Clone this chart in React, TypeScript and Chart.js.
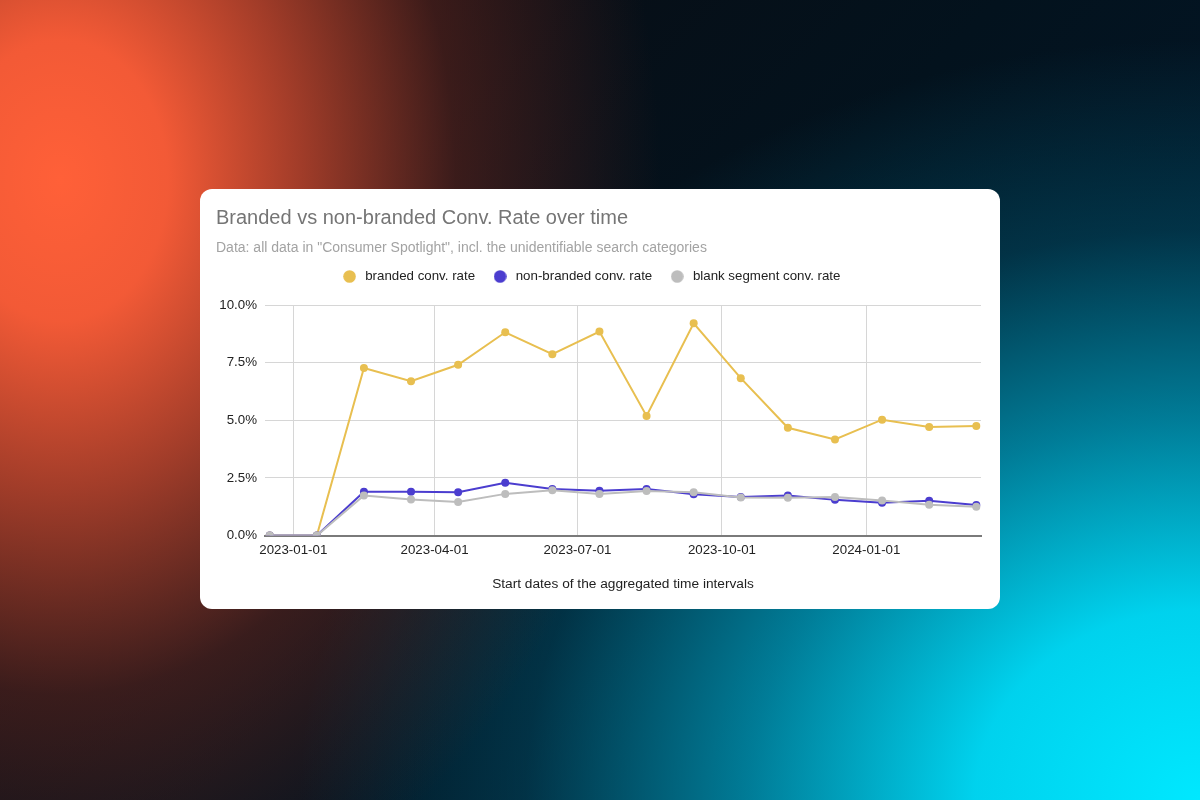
import React, { useEffect, useRef } from 'react';
import { Chart, registerables } from 'chart.js';

Chart.register(...registerables);

// ---------- data ----------
const chartTitle = 'Branded vs non-branded Conv. Rate over time';
const chartSubtitle = 'Data: all data in "Consumer Spotlight", incl. the unidentifiable search categories';
const xAxisTitle = 'Start dates of the aggregated time intervals';

const seriesLabels = ['branded conv. rate', 'non-branded conv. rate', 'blank segment conv. rate'];

const intervalStarts = [
  '2022-12-17', '2023-01-16', '2023-02-15', '2023-03-17', '2023-04-16', '2023-05-16',
  '2023-06-15', '2023-07-15', '2023-08-14', '2023-09-13', '2023-10-13', '2023-11-12',
  '2023-12-12', '2024-01-11', '2024-02-10', '2024-03-11',
];

const brandedRate = [0, 0, 7.27, 6.7, 7.41, 8.82, 7.87, 8.85, 5.19, 9.21, 6.83, 4.68, 4.17, 5.03, 4.71, 4.76];
const nonBrandedRate = [0, 0, 1.9, 1.9, 1.88, 2.29, 2.02, 1.95, 2.02, 1.79, 1.68, 1.74, 1.55, 1.42, 1.51, 1.33];
const blankSegmentRate = [0, 0, 1.74, 1.57, 1.46, 1.81, 1.97, 1.81, 1.94, 1.88, 1.65, 1.64, 1.67, 1.52, 1.34, 1.25];

const xTickLabels = ['2023-01-01', '2023-04-01', '2023-07-01', '2023-10-01', '2024-01-01'];
const xRange = ['2022-12-14', '2024-03-14'];
const yTickValues = [0, 2.5, 5, 7.5, 10];

// ---------- style ----------
const COLORS = ['#E8BF50', '#4B3DCF', '#BDBDBD'];
const FONT = '"Liberation Sans", Arial, Helvetica, sans-serif';

const toMs = (d: string) => Date.parse(d + 'T00:00:00Z');

function makeDot(color: string) {
  const c = document.createElement('canvas');
  c.width = 13;
  c.height = 13;
  const g = c.getContext('2d')!;
  g.fillStyle = color;
  g.beginPath();
  g.arc(6.5, 6.5, 6.3, 0, Math.PI * 2);
  g.fill();
  return c;
}

export default function App() {
  const ref = useRef<HTMLCanvasElement | null>(null);

  useEffect(() => {
    if (!ref.current) return;
    const dots = COLORS.map(makeDot);
    const seriesValues = [brandedRate, nonBrandedRate, blankSegmentRate];

    const datasets = seriesValues.map((vals, i) => ({
      label: seriesLabels[i],
      data: intervalStarts.map((d, j) => ({ x: toMs(d), y: vals[j] })),
      borderColor: COLORS[i],
      backgroundColor: COLORS[i],
      pointBackgroundColor: COLORS[i],
      pointBorderColor: COLORS[i],
      borderWidth: 2,
      pointRadius: 4,
      pointBorderWidth: 0,
      tension: 0,
      order: 2 - i,
    }));

    const legendSpacer = {
      id: 'legendSpacer',
      beforeInit(chart: any) {
        const origFit = chart.legend.fit;
        chart.legend.fit = function () {
          origFit.bind(this)();
          this.height += 9;
        };
      },
      afterLayout(chart: any) {
        if (chart.legend) {
          chart.legend.left -= 8;
          chart.legend.right -= 8;
          chart.legend.top -= 3;
          chart.legend.bottom -= 3;
        }
      },
    };

    const chart = new Chart(ref.current, {
      type: 'line',
      data: { datasets: datasets as any },
      plugins: [legendSpacer],
      options: {
        animation: false,
        responsive: false,
        maintainAspectRatio: false,
        layout: { padding: { left: 16, right: 19, top: 17, bottom: 13 } },
        plugins: {
          title: {
            display: true,
            text: chartTitle,
            align: 'start',
            color: '#757575',
            font: { family: FONT, size: 20, weight: 'normal' },
            padding: { top: 0, bottom: 4 },
          },
          subtitle: {
            display: true,
            text: chartSubtitle,
            align: 'start',
            color: '#A3A3A3',
            font: { family: FONT, size: 14, weight: 'normal' },
            padding: { top: 6, bottom: 0 },
          },
          legend: {
            display: true,
            position: 'top',
            align: 'center',
            labels: {
              color: '#222222',
              font: { family: FONT, size: 13.3 },
              usePointStyle: true,
              pointStyleWidth: 18,
              boxHeight: 9,
              padding: 16,
              sort: (a: any, b: any) => a.datasetIndex - b.datasetIndex,
              generateLabels: (ch: any) =>
                Chart.defaults.plugins.legend.labels
                  .generateLabels(ch)
                  .map((item: any) => ({ ...item, pointStyle: dots[item.datasetIndex] })),
            },
          },
          tooltip: { enabled: false },
        },
        scales: {
          x: {
            type: 'linear',
            min: toMs(xRange[0]),
            max: toMs(xRange[1]),
            afterBuildTicks: (scale: any) => {
              scale.ticks = xTickLabels.map((d) => ({ value: toMs(d) }));
            },
            ticks: {
              autoSkip: false,
              maxRotation: 0,
              padding: 7,
              color: '#222222',
              font: { family: FONT, size: 13.3 },
              callback: (_v: any, i: number) => xTickLabels[i],
            },
            grid: { color: '#D6D6D6', lineWidth: 1, drawTicks: false },
            border: { display: true, color: '#7A7A7A', width: 2 },
            title: {
              display: true,
              text: xAxisTitle,
              color: '#222222',
              font: { family: FONT, size: 13.7 },
              padding: { top: 10, bottom: 4 },
            },
          },
          y: {
            min: 0,
            max: 10,
            afterBuildTicks: (scale: any) => {
              scale.ticks = yTickValues.map((v) => ({ value: v }));
            },
            afterFit: (scale: any) => {
              scale.width = 49;
            },
            ticks: {
              padding: 8,
              color: '#222222',
              font: { family: FONT, size: 13.3 },
              callback: (v: any) => Number(v).toFixed(1) + '%',
            },
            grid: { color: '#D6D6D6', lineWidth: 1, drawTicks: false },
            border: { display: false },
          },
        },
      },
    });

    return () => chart.destroy();
  }, []);

  const bg =
    'radial-gradient(ellipse 600px 780px at 60px 180px, rgba(255,96,56,1) 0%, rgba(255,94,56,0.95) 18%, rgba(200,72,46,0.8) 40%, rgba(110,40,30,0.5) 66%, rgba(0,0,0,0) 100%),' +
    'radial-gradient(ellipse 900px 760px at 1200px 800px, rgba(0,232,255,1) 0%, rgba(0,220,248,0.95) 25%, rgba(0,150,180,0.8) 50%, rgba(0,80,105,0.5) 75%, rgba(0,0,0,0) 100%),' +
    'linear-gradient(135deg, #0c0a0e 0%, #03121d 50%, #021a30 100%)';

  return (
    <div style={{ position: 'fixed', left: 0, top: 0, width: 1200, height: 800, background: bg, overflow: 'hidden' }}>
      <div
        style={{
          position: 'absolute',
          left: 200,
          top: 189,
          width: 800,
          height: 420,
          background: '#ffffff',
          borderRadius: 12,
          overflow: 'hidden',
        }}
      >
        <canvas ref={ref} width={800} height={420} style={{ display: 'block', width: 800, height: 420 }} />
      </div>
    </div>
  );
}
